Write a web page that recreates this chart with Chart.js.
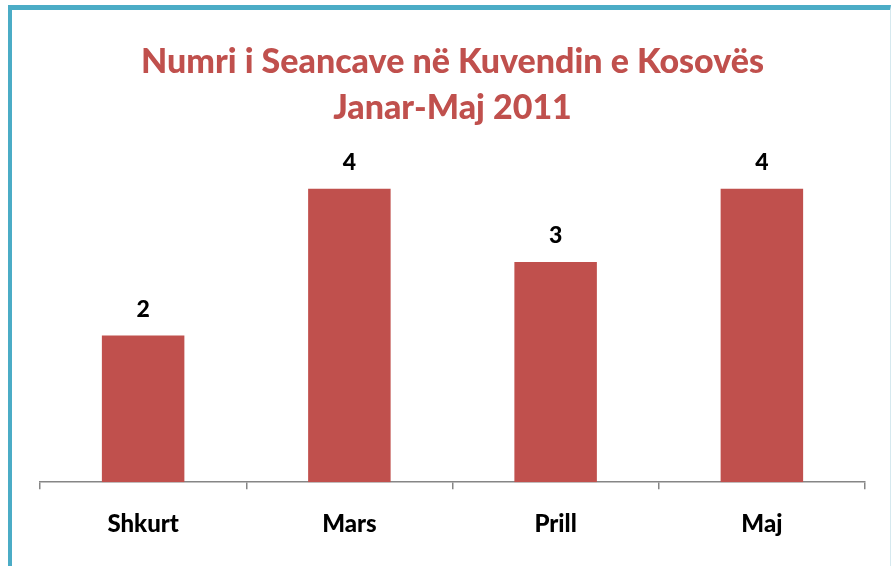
<!DOCTYPE html>
<html>
<head>
<meta charset="utf-8">
<script src="https://cdn.jsdelivr.net/npm/chart.js@4.4.1/dist/chart.umd.min.js"></script>
<style>
  html, body { margin: 0; padding: 0; background: #fff; overflow: hidden; }
  #frame {
    position: absolute; left: 8px; top: 5px; width: 878px; height: 600px;
    border-left: 4px solid #4BACC6; border-top: 5px solid #4BACC6;
    border-right: 1px solid #d6e9ef;
  }
  #wrap { position: absolute; left: 0; top: 0; width: 892px; height: 566px; }
</style>
</head>
<body>
<div id="frame"></div>
<div id="wrap"><canvas id="chart"></canvas></div>
<script>
const months = ["Shkurt", "Mars", "Prill", "Maj"];
const sessions = [2, 4, 3, 4];
const titleLines = ["Numri i Seancave në Kuvendin e Kosovës", "Janar-Maj 2011"];

const barRed = "#C0504D";
const fontFamily = "Lato, 'Open Sans', sans-serif";

// draws the value above each bar
const valueLabels = {
  id: "valueLabels",
  afterDatasetsDraw(chart) {
    const ctx = chart.ctx;
    const meta = chart.getDatasetMeta(0);
    ctx.save();
    ctx.font = "900 23px " + fontFamily;
    ctx.fillStyle = "#000";
    ctx.textAlign = "center";
    ctx.textBaseline = "middle";
    meta.data.forEach((bar, i) => {
      ctx.fillText(String(sessions[i]), bar.x, bar.y - 26);
    });
    ctx.restore();
  },
};

const ctx = document.getElementById("chart").getContext("2d");
new Chart(ctx, {
  type: "bar",
  data: {
    labels: months,
    datasets: [
      {
        data: sessions,
        backgroundColor: barRed,
        categoryPercentage: 1,
        barPercentage: 0.4,
      },
    ],
  },
  options: {
    responsive: true,
    maintainAspectRatio: false,
    animation: false,
    layout: { padding: { left: 40, right: 27, top: 0, bottom: 6 } },
    plugins: {
      legend: { display: false },
      tooltip: { enabled: false },
      title: {
        display: true,
        text: titleLines,
        color: barRed,
        font: { family: fontFamily, size: 34, weight: "900", lineHeight: 1.353 },
        padding: { top: 39, bottom: 21 },
      },
    },
    scales: {
      y: { display: false, min: 0, max: 4.5 },
      x: {
        grid: {
          offset: true,
          drawOnChartArea: false,
          color: "#868686",
          tickLength: 7,
          lineWidth: 1.5,
        },
        border: { color: "#868686", width: 1.5 },
        ticks: {
          color: "#000",
          padding: 21,
          font: { family: fontFamily, size: 24, weight: "900" },
        },
      },
    },
  },
  plugins: [valueLabels],
});
</script>
</body>
</html>
